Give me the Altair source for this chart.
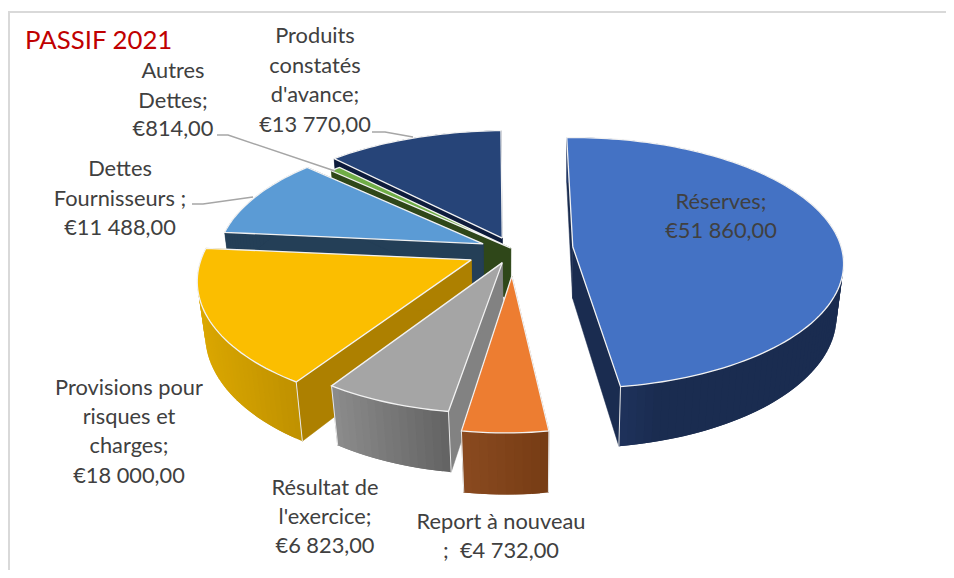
import math
import altair as alt

names = ["Réserves", "Report à nouveau", "Résultat de l'exercice", "Provisions pour risques et charges",
         "Dettes Fournisseurs", "Autres Dettes", "Produits constatés d'avance"]
values = [51860, 4732, 6823, 18000, 11488, 814, 13770]
explode = [60, 55, 30, 47, 32, 3, 26]
view_x = [565, 535, 535, 505, 505, 505, 505]
rim_dx = [1, 0, 1, -4, -4, -3, 4]
rim_dy = [0, -2, 0, 0, 0, 0, -1]
rim_sx = [1.027, 0.93, 1, 1, 1, 1, 1.045]
top_colors = ["#4472C4", "#ED7D31", "#A5A5A5", "#FBBE00", "#5B9BD5", "#70AD47", "#264478"]
wall_left = ["#243A6B", "#8A4A20", "#8C8C8C", "#DBA700", "#243F57", "#2F4719", "#0E1C3C"]
wall_right = ["#1A2C50", "#763C14", "#626262", "#BF9100", "#243F57", "#2F4719", "#0E1C3C"]
radial_colors = ["#1A2C50", "#763C14", "#828282", "#AD8000", "#243F57", "#2F4719", "#0E1C3C"]
draw_order = [6, 5, 4, 3, 2, 1, 0]

label_lines = [
    (["Réserves;", "€51 860,00"], 721, [201.5, 230.5]),
    (["Report à nouveau", ";\u00a0\u00a0€4 732,00"], 501, [521.5, 550.5]),
    (["Résultat de", "l'exercice;", "€6 823,00"], 325, [487.5, 516.5, 545.5]),
    (["Provisions pour", "risques et", "charges;", "€18 000,00"], 129, [387.5, 416.5, 445.5, 475.5]),
    (["Dettes", "Fournisseurs ;", "€11 488,00"], 120, [168.5, 198.5, 227.5]),
    (["Autres", "Dettes;", "€814,00"], 173, [70.5, 100.5, 128.5]),
    (["Produits", "constatés", "d'avance;", "€13 770,00"], 315, [36, 65.5, 94.5, 124.5]),
]
leaders = [
    [(217, 135), (228, 135), (335, 171)],
    [(192, 204), (203, 204), (253, 197)],
    [(372, 132), (385, 132), (413, 137)],
]

W, H = 938, 562
OFF = 8
VY = 240
CX = 513
APEX_DY = 9
R, DEPTH = 258, 60
SIN_T = 0.47
COS_T = math.sqrt(1 - SIN_T ** 2)
D = 1126
START = -1.5


def pt(i, x, y, z=0.0, dy=0.0, rim=True):
    s = D / (D - y * COS_T + z * SIN_T)
    vx = view_x[i]
    shift = rim_dx[i] if rim else 0
    lift = rim_dy[i] if rim else 0
    return [round((CX - vx + x) * s + vx + shift - OFF, 2),
            round((y * SIN_T + z * COS_T) * s + VY + dy + lift - OFF, 2)]


def feature(coords, fill, stroke, sw, line=False):
    geom = {"type": "LineString", "coordinates": coords} if line else \
        {"type": "Polygon", "coordinates": [coords + [coords[0]]]}
    return {"type": "Feature", "geometry": geom,
            "properties": {"fill": fill, "stroke": stroke, "sw": sw}}


def mix(a, b, t):
    ca = [int(a[i:i + 2], 16) for i in (1, 3, 5)]
    cb = [int(b[i:i + 2], 16) for i in (1, 3, 5)]
    return "#%02X%02X%02X" % tuple(round(p + (q - p) * t) for p, q in zip(ca, cb))


total = sum(values)
spans = []
a = START
for v in values:
    b = a + v / total * 360
    spans.append((a, b))
    a = b

features = []
for i in draw_order:
    a0, b0 = spans[i]
    mid = math.radians((a0 + b0) / 2)
    ox, oy = explode[i] * math.sin(mid), -explode[i] * math.cos(mid)
    n = max(3, int((b0 - a0) / 1.5))
    rim = []
    for k in range(n + 1):
        t = math.radians(a0 + (b0 - a0) * k / n)
        rim.append((ox + R * rim_sx[i] * math.sin(t), oy - R * math.cos(t)))
    apex_t = pt(i, ox, oy, dy=APEX_DY, rim=False)
    apex_b = pt(i, ox, oy, DEPTH, dy=APEX_DY, rim=False)
    # radial walls
    for (rx, ry) in (rim[0], rim[-1]):
        q = [apex_t, pt(i, rx, ry), pt(i, rx, ry, DEPTH), apex_b]
        features.append(feature(q, radial_colors[i], radial_colors[i], 0.5))
    # outer wall, as shaded strips that overlap the next one
    xs = [pt(i, x, y)[0] for x, y in rim]
    xmin, xmax = min(xs), max(xs)
    for k in range(n):
        (x1, y1) = rim[k]
        (x2, y2) = rim[min(k + 2, n)]
        q = [pt(i, x1, y1), pt(i, x2, y2), pt(i, x2, y2, DEPTH), pt(i, x1, y1, DEPTH)]
        t = ((xs[k] + xs[k + 1]) / 2 - xmin) / max(xmax - xmin, 1)
        if i == 0:
            t = min(1, t * 3)
        c = mix(wall_left[i], wall_right[i], t)
        features.append(feature(q, c, c, 0))
    # top face
    top = [apex_t] + [pt(i, x, y) for x, y in rim]
    features.append(feature(top, top_colors[i], top_colors[i], 0))
    # edges
    features.append(feature(top + [apex_t], "none", "#F2F2F2", 1.3, line=True))
    for (rx, ry) in (rim[0], rim[-1]):
        if ry > 40:
            features.append(feature([pt(i, rx, ry), pt(i, rx, ry, DEPTH)], "none", "#E8E8E8", 1.0, line=True))

for ld in leaders:
    features.append(feature([[x - OFF, y - OFF] for x, y in ld], "none", "#A6A6A6", 1.5, line=True))

pie = alt.Chart(alt.Data(values=features)).mark_geoshape().encode(
    fill=alt.Color("properties.fill:N", scale=None),
    stroke=alt.Stroke("properties.stroke:N", scale=None),
    strokeWidth=alt.StrokeWidth("properties.sw:Q", scale=None),
).project(type="identity", scale=1, translate=[0, 0])

rows = []
for lines, x, ys in label_lines:
    for line, y in zip(lines, ys):
        rows.append({"t": line, "x": x - OFF, "y": y - OFF})

labels = alt.Chart(alt.Data(values=rows)).mark_text(
    font="Lato", fontSize=21.8, color="#404040", align="center", baseline="middle"
).encode(x=alt.X("x:Q", scale=None), y=alt.Y("y:Q", scale=None), text="t:N")

title = alt.Chart(alt.Data(values=[{"t": "PASSIF 2021", "x": 25 - OFF, "y": 41 - OFF}])).mark_text(
    font="Lato", fontSize=25.8, color="#C00000", align="left", baseline="middle"
).encode(x=alt.X("x:Q", scale=None), y=alt.Y("y:Q", scale=None), text="t:N")

frame = alt.Chart(alt.Data(values=[{"x": 0, "x2": W, "y": 4, "y2": 4}, {"x": 1, "x2": 1, "y": 4, "y2": H}])).mark_rule(
    color="#D9D9D9", strokeWidth=2
).encode(x=alt.X("x:Q", scale=None), x2="x2:Q", y=alt.Y("y:Q", scale=None), y2="y2:Q")

chart = alt.layer(frame, pie, labels, title).properties(
    width=W, height=H, padding=0, autosize=alt.AutoSizeParams(type="none")
).configure_view(stroke=None)

chart.save("out.html", embed_options={"renderer": "svg", "actions": False})
